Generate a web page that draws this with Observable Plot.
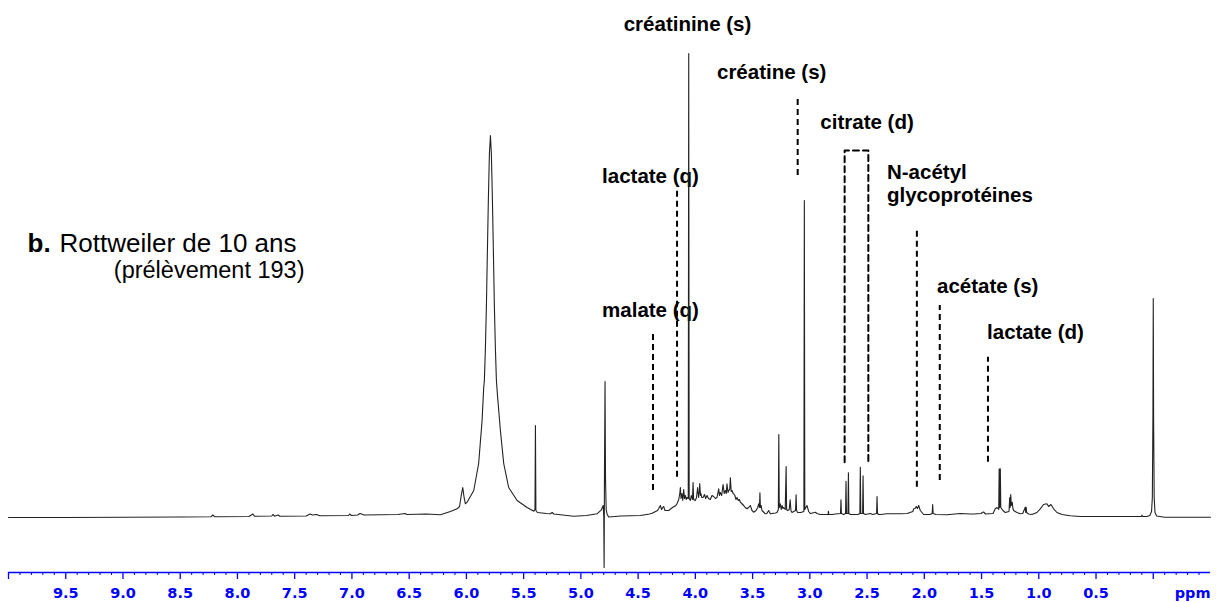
<!DOCTYPE html>
<html><head><meta charset="utf-8">
<script src="https://cdn.jsdelivr.net/npm/d3@7"></script>
<script src="https://cdn.jsdelivr.net/npm/@observablehq/plot@0.6"></script>
<style>html,body{margin:0;padding:0;background:#fff} svg{display:block}</style>
</head><body><div id="chart"></div>
<script>
// ---- DATA ----
// 1H NMR spectrum: [chemical shift (ppm), intensity]
const spectrum = [
[10.0,0],[9.5,0],[9.0,0.3],[8.5,0.5],[8.23,0.8],[8.215,2.5],[8.20,0.8],
[7.90,1],[7.865,3.5],[7.85,1.2],[7.70,1.5],[7.69,3],[7.675,1.3],[7.645,2.5],[7.63,1.3],
[7.40,1.5],[7.365,3.5],[7.345,2.5],[7.31,3],[7.28,1.8],
[7.03,2],[7.02,3.5],[7.005,2],[6.95,2.5],[6.93,4],[6.915,3.5],[6.895,2.5],
[6.60,3],[6.535,4],[6.52,3],[6.35,3.5],[6.227,2.7],[6.14,6],[6.081,8.7],[6.06,11],[6.045,22],[6.032,30],[6.02,20],[6.009,13.7],[5.994,15.3],[5.936,27],[5.893,54],[5.863,97],[5.849,130],[5.843,137],[5.834,170],[5.825,213],[5.817,264],[5.808,319],[5.799,364],[5.790,382],[5.782,364],[5.773,319],[5.764,264],[5.756,213],[5.747,170],[5.738,137],[5.727,120],[5.703,87],[5.674,54],[5.631,30],[5.557,17],[5.47,10],[5.411,6.3],[5.401,8],[5.397,92],[5.393,7],[5.38,5],[5.30,4],[5.266,3.7],[5.251,5],[5.236,3.5],[5.063,1.3],[4.95,2],[4.859,3.7],[4.821,7.7],[4.805,12],[4.800,0],[4.797,-50],[4.794,40],[4.789,136],[4.785,40],[4.779,8],[4.770,3],[4.757,0.5],
[4.65,1.5],[4.48,2],[4.40,3.5],[4.378,4.3],[4.33,7],[4.32,9],[4.306,12],[4.295,8],[4.285,10],[4.277,11],[4.265,7],[4.233,7],[4.20,10],[4.17,12],[4.16,14],[4.145,18],[4.135,25],[4.131,30],[4.125,19],[4.117,24],[4.11,17],[4.102,28],[4.095,19],[4.087,22],[4.08,18],[4.073,20],[4.062,19],[4.058,464],[4.054,19],[4.044,17],[4.035,22],[4.025,18],[4.020,35],[4.015,18],[4.000,17],[3.990,20],[3.980,30],[3.972,20],[3.965,26],[3.962,34],[3.955,22],[3.951,24],[3.945,20],[3.933,20],[3.920,23],[3.910,19],[3.898,22],[3.885,19],[3.869,18],[3.855,22],[3.840,21],[3.825,19],[3.811,20],[3.796,28.7],[3.790,22],[3.782,25],[3.770,22],[3.758,33],[3.748,24],[3.738,27],[3.730,24],[3.724,33.7],[3.715,25],[3.709,27],[3.700,28],[3.694,39.7],[3.687,26],[3.680,27],[3.670,24],[3.665,23.7],[3.655,22],[3.645,18],[3.636,20],[3.625,17],[3.615,18],[3.607,15.3],[3.595,14],[3.578,12],[3.565,10],[3.549,8.7],[3.535,10],[3.520,12],[3.505,7],[3.491,5.3],[3.470,7],[3.455,10],[3.447,13.7],[3.440,10],[3.436,24.7],[3.432,10],[3.425,12],[3.418,7],[3.400,5],[3.389,3.7],[3.375,4],[3.360,7],[3.345,3.7],[3.300,4.5],[3.287,5],[3.275,8],[3.271,83],[3.267,10],[3.258,13.7],[3.250,8],[3.243,12],[3.235,9],[3.229,10],[3.215,8],[3.207,51],[3.203,8],[3.194,7],[3.180,8],[3.172,17.7],[3.165,7],[3.156,5],[3.141,6],[3.125,7],[3.120,22.7],[3.116,7],[3.106,5],[3.080,5],[3.052,6],[3.048,317],[3.044,8],[3.025,12],[3.010,6],[2.996,4],[2.960,5],[2.952,5.3],[2.937,4],[2.908,3],[2.870,3],[2.840,3],[2.838,6.3],[2.834,3],[2.800,3],[2.777,3.5],[2.732,4],[2.728,17.7],[2.724,4],[2.705,3],[2.688,4],[2.684,36.3],[2.680,4],[2.667,4],[2.663,44.7],[2.659,4],[2.646,3],[2.603,3],[2.580,3],[2.563,4],[2.559,50.3],[2.555,4],[2.539,4],[2.535,41.7],[2.531,4],[2.515,3],[2.472,4],[2.450,3],[2.417,4],[2.413,21],[2.409,4],[2.399,3],[2.384,3],[2.326,3.7],[2.210,3.7],[2.150,4],[2.100,6],[2.093,8.7],[2.080,9],[2.070,11],[2.060,9],[2.049,12],[2.035,7],[2.006,3],[1.950,3],[1.931,4],[1.927,13],[1.923,4],[1.900,3],[1.802,2.7],[1.686,4],[1.600,3.5],[1.569,3.5],[1.500,4],[1.496,5],[1.482,5.5],[1.465,3.5],[1.400,4],[1.380,8.7],[1.365,10],[1.350,8],[1.346,48.7],[1.342,10],[1.336,48.7],[1.332,10],[1.313,7],[1.293,5],[1.260,6],[1.254,20],[1.250,10],[1.245,23],[1.240,12],[1.232,15.3],[1.226,9],[1.220,7],[1.191,5],[1.162,3.7],[1.140,4],[1.118,10.3],[1.114,5],[1.110,10.3],[1.106,5],[1.089,3.5],[1.060,3],[1.016,5],[0.987,8.7],[0.958,13],[0.940,13.5],[0.929,13.7],[0.914,11],[0.894,13],[0.871,8.7],[0.841,5],[0.798,3],[0.725,1.7],[0.638,1],[0.346,1],[0.105,1],[0.099,2.3],[0.093,1],[0.055,1],[0.030,2],[0.015,6],[0.008,20],[0.003,100],[0.000,219],[-0.003,100],[-0.008,20],[-0.015,5],[-0.030,1.5],[-0.100,0.3],[-0.236,0.3],[-0.500,0.3]
];

// Assignment markers (dashed lines) : name and chemical shift
const markerNames = ["malate (q)", "lactate (q)", "créatine (s)", "N-acétyl glycoprotéines", "acétate (s)", "lactate (d)"];
const markerPpm   = [4.37, 4.16, 3.106, 2.065, 1.865, 1.444];
const citratePpm  = [2.696, 2.489];

// Annotation texts
const labelTexts = ["créatinine (s)", "créatine (s)", "citrate (d)", "lactate (q)", "malate (q)", "N-acétyl", "glycoprotéines", "acétate (s)", "lactate (d)"];

// Axis ticks
const majorTicks  = [10, 9.5, 9, 8.5, 8, 7.5, 7, 6.5, 6, 5.5, 5, 4.5, 4, 3.5, 3, 2.5, 2, 1.5, 1, 0.5, 0];
const majorLabels = ["", "9.5", "9.0", "8.5", "8.0", "7.5", "7.0", "6.5", "6.0", "5.5", "5.0", "4.5", "4.0", "3.5", "3.0", "2.5", "2.0", "1.5", "1.0", "0.5", ""];
const unitLabel = "ppm";
const titleBold = "b.";
const titleRest = "Rottweiler de 10 ans";
const subtitle  = "(prélèvement 193)";

// ---- LAYOUT (not data) ----
const markerSpan = [[27,184],[40.3,327],[342,420.3],[30.3,290.3],[37,212],[55.3,160.3]];
const citrateSpan = [55.3, 367];
const labelAt = [[4.626,487],[3.811,438.7],[2.908,389],[4.815,334.3],[4.815,201],[2.326,339],[2.326,316],[1.889,225],[1.452,179]];

const minorTicks = d3.range(-4, 100).filter(k => k % 5 !== 0).map(k => k / 10);
const BLUE = "#0000ff";
const sans = "Liberation Sans, Arial, Helvetica, sans-serif";
const axisFont = "DejaVu Sans, Verdana, sans-serif";

const bracket = [[citratePpm[0], citrateSpan[0]], [citratePpm[0], citrateSpan[1]], [citratePpm[1], citrateSpan[1]], [citratePpm[1], citrateSpan[0]]];

const chart = Plot.plot({
  width: 1219, height: 602,
  marginLeft: 8, marginRight: 9, marginTop: 0, marginBottom: 30,
  x: {domain: [10, -0.5], label: null},
  y: {domain: [-55, 517], axis: null},
  style: {background: "#fff", overflow: "visible"},
  marks: [
    Plot.text(labelTexts, {x: (d,i) => labelAt[i][0], y: (d,i) => labelAt[i][1], text: d => d,
      textAnchor: "start", lineAnchor: "bottom", fontSize: 20.5, fontWeight: "bold", fontFamily: sans, fill: "#000"}),
    Plot.text([titleBold], {frameAnchor: "top-left", dx: 19, dy: 251, text: d => d, textAnchor: "start", lineAnchor: "bottom",
      fontSize: 26, fontWeight: "bold", fontFamily: sans, fill: "#000"}),
    Plot.text([titleRest], {frameAnchor: "top-left", dx: 51, dy: 251, text: d => d, textAnchor: "start", lineAnchor: "bottom",
      fontSize: 26, fontFamily: sans, fill: "#000"}),
    Plot.text([subtitle], {frameAnchor: "top-left", dx: 105.3, dy: 277, text: d => d, textAnchor: "start", lineAnchor: "bottom",
      fontSize: 23.5, fontFamily: sans, fill: "#000"}),
    Plot.ruleX(markerPpm, {x: d => d, y1: (d,i) => markerSpan[i][0], y2: (d,i) => markerSpan[i][1],
      stroke: "#000", strokeWidth: 2, strokeDasharray: "6,4"}),
    Plot.line(bracket, {x: d => d[0], y: d => d[1], stroke: "#000", strokeWidth: 2, strokeDasharray: "6,4"}),
    Plot.line(spectrum, {x: d => d[0], y: d => d[1], stroke: "#222", strokeWidth: 1.1}),
    Plot.ruleY([-55], {stroke: BLUE, strokeWidth: 1.5}),
    Plot.axisX({ticks: minorTicks, tickSize: 3, tickFormat: () => "", color: BLUE, strokeWidth: 1}),
    Plot.axisX({ticks: majorTicks, tickSize: 7, tickPadding: 8, tickFormat: (d) => majorLabels[majorTicks.indexOf(d)],
      color: BLUE, strokeWidth: 1.3, fontSize: 14.5, fontWeight: "bold", fontFamily: axisFont}),
    Plot.text([unitLabel], {frameAnchor: "bottom-right", dy: 15, text: d => d, textAnchor: "end", lineAnchor: "top",
      fontSize: 14.5, fontWeight: "bold", fontFamily: axisFont, fill: BLUE})
  ]
});
document.getElementById("chart").appendChild(chart);
</script>
</body></html>
